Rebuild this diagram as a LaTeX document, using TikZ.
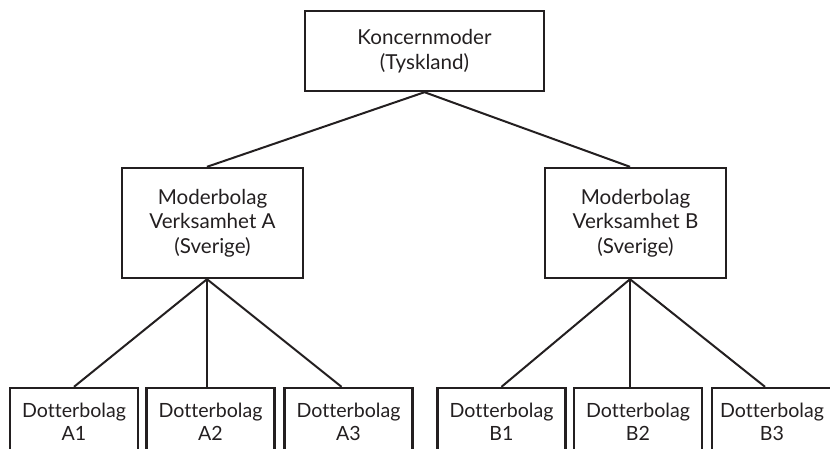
\documentclass[tikz,border=0pt]{standalone}
\usepackage{fontspec}
\setmainfont{Lato}[Ligatures={NoCommon}]
\definecolor{ink}{HTML}{231F20}
\begin{document}
\begin{tikzpicture}[x=1pt,y=-1pt,
  box/.style={draw=ink, line width=2.4pt, text=ink, align=center,
    font=\fontsize{20.6}{24.5}\selectfont, inner sep=0pt},
  topbox/.style={box, minimum width=239pt, minimum height=80pt},
  midbox/.style={box, minimum width=181pt, minimum height=110pt},
  leafbox/.style={box, minimum width=128pt, minimum height=68pt,
    font=\fontsize{19.6}{23.5}\selectfont},
  link/.style={draw=ink, line width=2pt}]
\useasboundingbox (0,0) rectangle (830,448);
\node[topbox] (top) at (424.5,51) {Koncernmoder\\(Tyskland)};
\node[midbox] (mA) at (212.5,223) {Moderbolag\\Verksamhet A\\(Sverige)};
\node[midbox] (mB) at (635.5,223) {Moderbolag\\Verksamhet B\\(Sverige)};
\node[leafbox] (A1) at (74,422) {Dotterbolag\\A1};
\node[leafbox] (A2) at (210.5,422) {Dotterbolag\\A2};
\node[leafbox] (A3) at (348.5,422) {Dotterbolag\\A3};
\node[leafbox] (B1) at (501.5,422) {Dotterbolag\\B1};
\node[leafbox] (B2) at (638,422) {Dotterbolag\\B2};
\node[leafbox, minimum width=120pt] (B3) at (772,422) {Dotterbolag\\B3};
\draw[link] ([xshift=-5.5pt]mA.north) -- (top.south) -- ([xshift=-5.5pt]mB.north);
\draw[link] ([xshift=-5.5pt]mA.south) -- (A1.north);
\draw[link] ([xshift=-5.5pt]mA.south) -- ([xshift=-3.5pt]A2.north);
\draw[link] ([xshift=-5.5pt]mA.south) -- ([xshift=-7pt]A3.north);
\draw[link] ([xshift=-5.5pt]mB.south) -- (B1.north);
\draw[link] ([xshift=-5.5pt]mB.south) -- ([xshift=-8pt]B2.north);
\draw[link] ([xshift=-5.5pt]mB.south) -- ([xshift=-7pt]B3.north);
\end{tikzpicture}
\end{document}
